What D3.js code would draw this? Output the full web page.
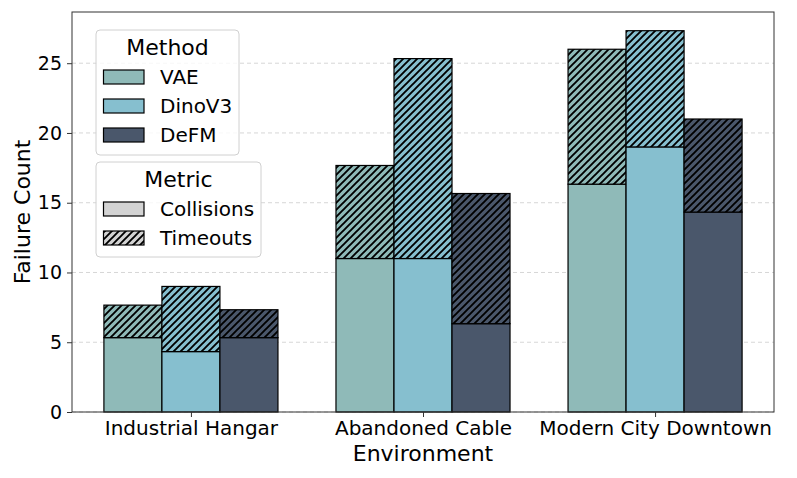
<!DOCTYPE html>
<html><head><meta charset="utf-8">
<script src="https://cdn.jsdelivr.net/npm/d3@7"></script>
<style>body{margin:0;background:#fff}text{font-family:"DejaVu Sans",sans-serif}</style>
</head><body><svg id="c" width="797" height="478"></svg>
<script>
const environments = ["Industrial Hangar", "Abandoned Cable", "Modern City Downtown"];
const methods = ["VAE", "DinoV3", "DeFM"];
const methodColors = ["#8fbab8", "#86bfcf", "#4a576b"];
// collisions per method, per environment
const collisions = {
  "VAE":    [5.33, 11.0, 16.33],
  "DinoV3": [4.33, 11.0, 19.0],
  "DeFM":   [5.33, 6.33, 14.33]
};
const timeouts = {
  "VAE":    [2.33, 6.67, 9.67],
  "DinoV3": [4.67, 14.33, 8.33],
  "DeFM":   [2.0, 9.33, 6.67]
};
const yTicks = [0, 5, 10, 15, 20, 25];
const metrics = ["Collisions", "Timeouts"];

const svg = d3.select("#c");
const L = 72, R = 774, T = 12, B = 412;
const barW = 0.25;
const x = d3.scaleLinear().domain([-0.5125, 2.5125]).range([L, R]);
const y = d3.scaleLinear().domain([0, 28.67]).range([B, T]);

const defs = svg.append("defs");
function hatch(id, c) {
  const p = defs.append("pattern").attr("id", id).attr("patternUnits", "userSpaceOnUse")
    .attr("width", 7).attr("height", 7);
  p.append("rect").attr("width", 7).attr("height", 7).attr("fill", c);
  p.append("path").attr("d", "M-1,8 L8,-1 M-4.5,4.5 L4.5,-4.5 M2.5,11.5 L11.5,2.5")
    .attr("stroke", "#000").attr("stroke-width", 1.9);
}
methodColors.forEach((c, i) => hatch("h" + i, c));
hatch("hg", "#d3d3d3");

// grid
svg.append("g").selectAll("line").data(yTicks).join("line")
  .attr("x1", L).attr("x2", R).attr("y1", d => y(d)).attr("y2", d => y(d))
  .attr("stroke", "#cccccc").attr("stroke-width", 0.8).attr("stroke-dasharray", "4,3");

// bars
const g = svg.append("g");
methods.forEach((m, mi) => {
  environments.forEach((e, ei) => {
    const cx = ei + (mi - 1) * barW;
    const x0 = x(cx - barW / 2), x1 = x(cx + barW / 2);
    const c = collisions[m][ei], t = timeouts[m][ei];
    g.append("rect").attr("x", x0).attr("width", x1 - x0)
      .attr("y", y(c)).attr("height", y(0) - y(c))
      .attr("fill", methodColors[mi]).attr("stroke", "#000").attr("stroke-width", 1.2);
    g.append("rect").attr("x", x0).attr("width", x1 - x0)
      .attr("y", y(c + t)).attr("height", y(c) - y(c + t))
      .attr("fill", "url(#h" + mi + ")").attr("stroke", "#000").attr("stroke-width", 1.2);
  });
});

// frame
svg.append("rect").attr("x", L).attr("y", T).attr("width", R - L).attr("height", B - T)
  .attr("fill", "none").attr("stroke", "#333").attr("stroke-width", 1);

// axes
const yAxis = svg.append("g").attr("transform", `translate(${L},0)`)
  .call(d3.axisLeft(y).tickValues(yTicks).tickSize(5).tickPadding(5));
yAxis.select(".domain").remove();
yAxis.selectAll("text").attr("font-size", 19).attr("fill", "#000").style("font-family", "DejaVu Sans");
yAxis.selectAll("line").attr("stroke", "#333");

const xAxis = svg.append("g").attr("transform", `translate(0,${B})`)
  .call(d3.axisBottom(x).tickValues([0, 1, 2]).tickFormat(i => environments[i]).tickSize(5).tickPadding(4));
xAxis.select(".domain").remove();
xAxis.selectAll("text").attr("font-size", 20).attr("fill", "#000").style("font-family", "DejaVu Sans");
xAxis.selectAll("line").attr("stroke", "#333");

svg.append("text").attr("x", (L + R) / 2).attr("y", 461).attr("text-anchor", "middle")
  .attr("font-size", 22).text("Environment");
svg.append("text").attr("transform", `translate(30,${(T + B) / 2}) rotate(-90)`)
  .attr("text-anchor", "middle").attr("font-size", 22).text("Failure Count");

// legends
function legend(x0, y0, w, h, title, items) {
  const lg = svg.append("g");
  lg.append("rect").attr("x", x0).attr("y", y0).attr("width", w).attr("height", h)
    .attr("rx", 4).attr("fill", "#fff").attr("fill-opacity", 0.8)
    .attr("stroke", "#d0d0d0").attr("stroke-width", 1);
  lg.append("text").attr("x", x0 + w / 2).attr("y", y0 + 25).attr("text-anchor", "middle")
    .attr("font-size", 22).text(title);
  items.forEach((it, i) => {
    const cy = y0 + 47 + i * 29;
    lg.append("rect").attr("x", x0 + 7.5).attr("y", cy - 7).attr("width", 40.5).attr("height", 14)
      .attr("fill", it.fill).attr("stroke", "#000").attr("stroke-width", 1.2);
    lg.append("text").attr("x", x0 + 64).attr("y", cy + 7).attr("font-size", 20).text(it.label);
  });
}
legend(96, 30, 143, 125, "Method", methods.map((m, i) => ({label: m, fill: methodColors[i]})));
legend(96, 162, 165, 95, "Metric", [{label: metrics[0], fill: "#d3d3d3"}, {label: metrics[1], fill: "url(#hg)"}]);
</script></body></html>
